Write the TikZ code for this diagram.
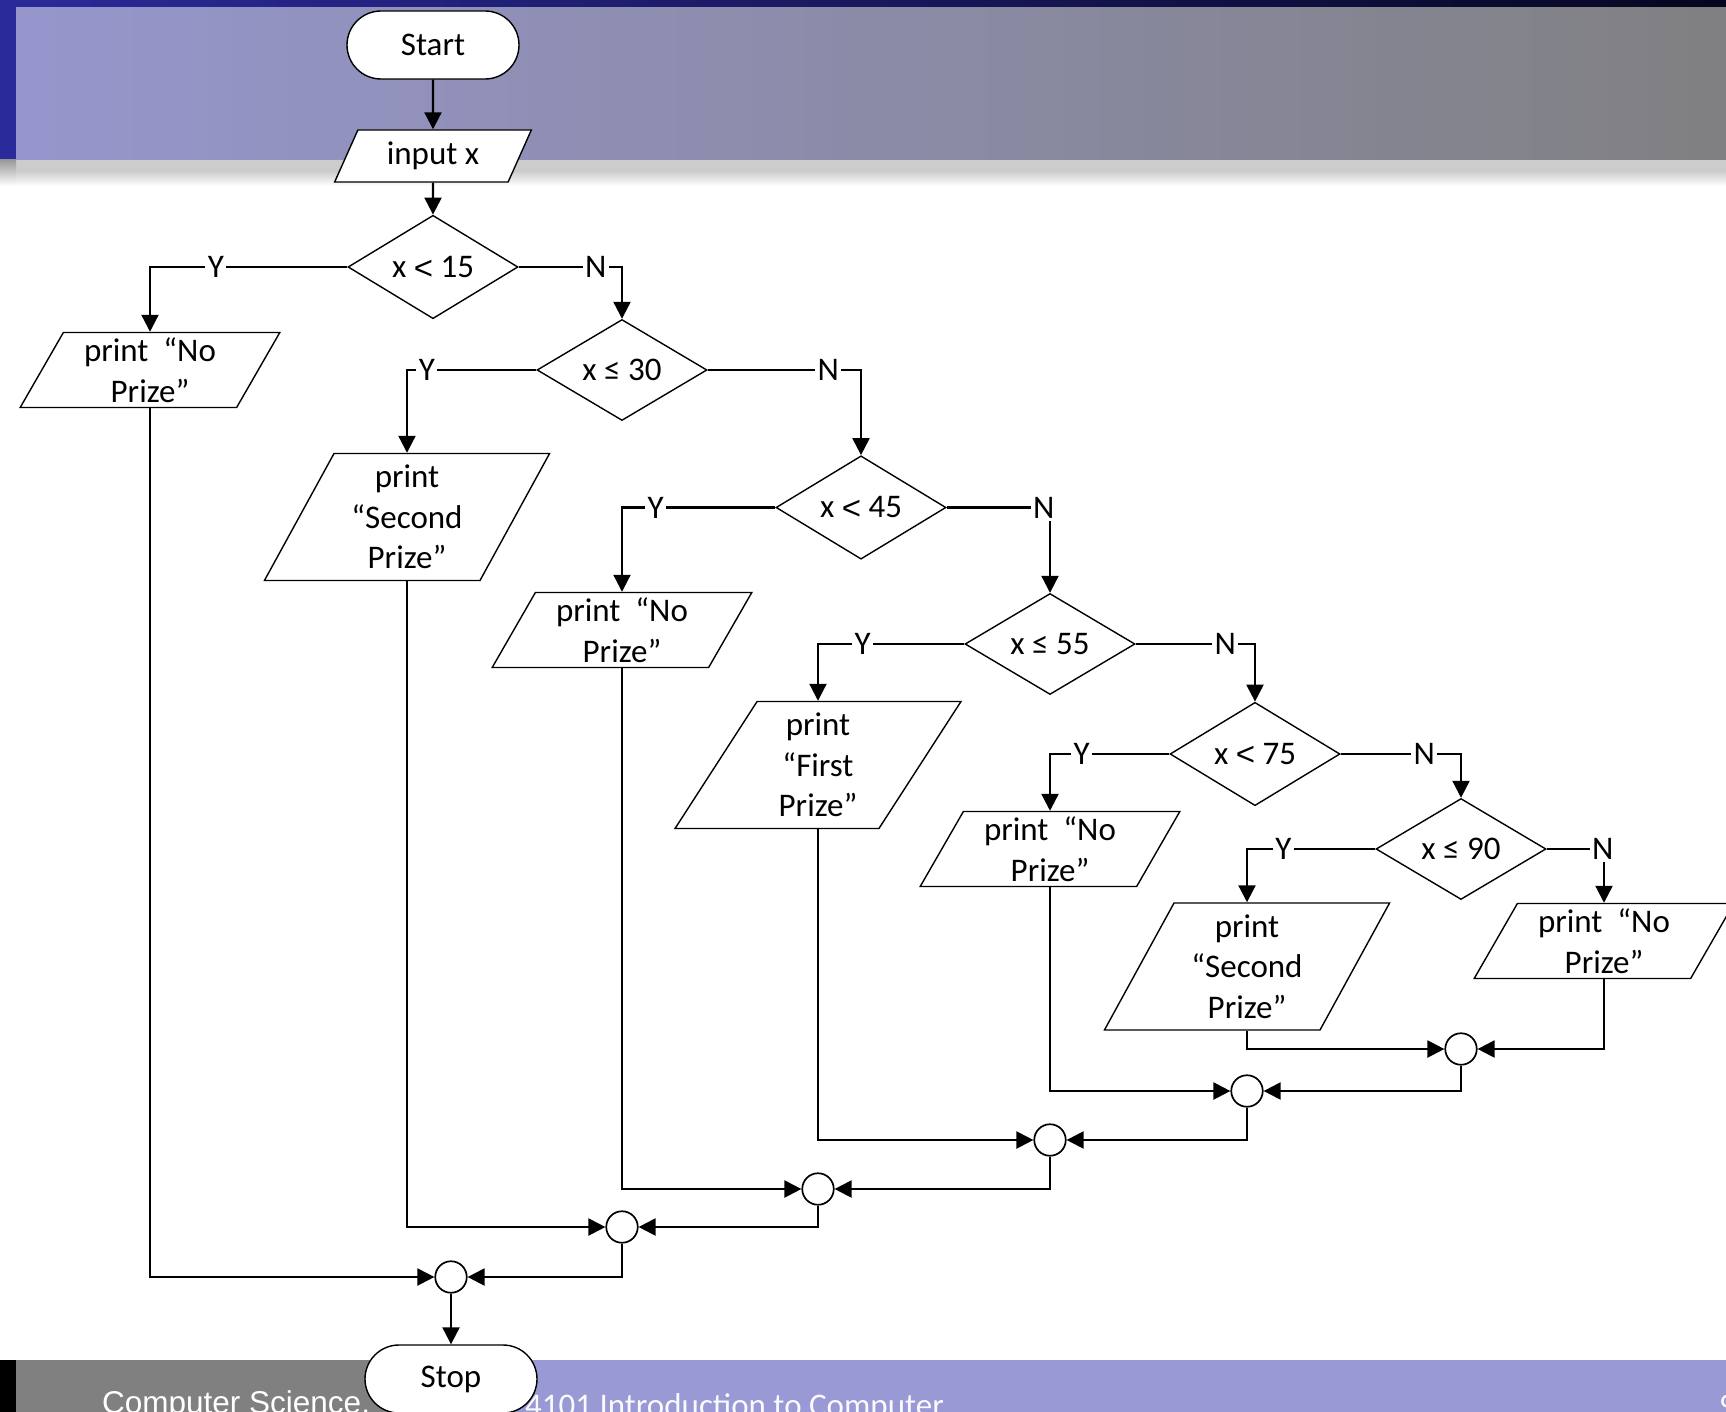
\documentclass[tikz,border=0pt]{standalone}
\usepackage{fontspec}
\setmainfont{Carlito}
\newfontfamily\footfont{Liberation Sans}
\usetikzlibrary{shapes.geometric,shapes.misc,arrows.meta,shadings}
\definecolor{topdark}{RGB}{43,42,154}
\definecolor{topblack}{RGB}{6,6,32}
\definecolor{bandleft}{RGB}{150,150,205}
\definecolor{bandright}{RGB}{128,128,130}
\definecolor{shadowgrey}{RGB}{204,204,204}
\definecolor{stripgrey}{RGB}{153,153,153}
\definecolor{footgrey}{RGB}{128,128,128}
\definecolor{footlav}{RGB}{153,153,214}
\newcommand\ltsym{\smash{\raisebox{-1.5pt}{\footfont<}}}
\tikzset{
  base/.style={draw=black, line width=1.4pt, fill=white, font=\fontsize{33}{40.5}\selectfont, align=center, inner sep=0pt},
  term/.style={base, rounded rectangle, minimum width=172pt, minimum height=68pt},
  io/.style={base, trapezium, trapezium left angle=63, trapezium right angle=117, trapezium stretches=true, minimum height=75pt, minimum width=260pt},
  iotall/.style={io, minimum height=127pt, minimum width=286pt},
  dec/.style={base, diamond, minimum width=170pt, minimum height=101pt},
  junc/.style={draw=black, line width=1.7pt, fill=white, circle, minimum size=31.5pt, inner sep=0pt},
  conn/.style={draw=black, line width=2.2pt, -{Triangle[length=17pt,width=17pt]}},
  lab/.style={fill=white, inner sep=2.5pt, font=\fontsize{33}{33}\selectfont},
  foot/.style={text=white, inner sep=0pt, anchor=base west}
}
\begin{document}
\begin{tikzpicture}[x=1pt,y=-1pt]
\useasboundingbox (0,0) rectangle (1726,1412);
% background
\fill[white] (0,0) rectangle (1726,1412);
\shade[left color=bandleft,right color=bandright] (16,7) rectangle (1726,160);
\shade[left color=topdark,right color=topblack] (0,0) rectangle (1726,7);
\fill[topdark] (0,0) rectangle (16,160);
\fill[shadowgrey] (16,160) rectangle (1726,171);
\shade[top color=shadowgrey,bottom color=white] (16,171) rectangle (1726,186);
\shade[top color=stripgrey,bottom color=white] (0,160) rectangle (16,186);
% footer
\fill[black] (0,1360) rectangle (16,1412);
\fill[footgrey] (16,1360) rectangle (460,1412);
\fill[footlav] (460,1360) rectangle (1726,1412);
\node[foot, font=\footfont\fontsize{31.5}{31.5}\selectfont] (ft1) at (102,1413) {Computer Science,};
\node[foot, font=\fontsize{33}{33}\selectfont, text=white!95!footlav] (ft2) at (525,1416) {4101 Introduction to Computer};
\node[foot, font=\fontsize{33}{33}\selectfont, text=white!95!footlav] (ft3) at (1719,1416) {9};

% nodes
\node[term] (start) at (433,45) {Start};
\node[io, minimum width=197pt, minimum height=52pt] (inp) at (433,156) {input x};
\node[dec] (d1) at (433,267) {x \ltsym{} 15};
\node[io] (p1) at (150,370) {print~~“No\\Prize”};
\node[dec] (d2) at (622,370) {x ≤ 30};
\node[iotall] (p2) at (407,517) {print\\“Second\\Prize”};
\node[dec] (d3) at (861,507.5) {x \ltsym{} 45};
\node[io] (p3) at (622,630) {print~~“No\\Prize”};
\node[dec] (d4) at (1050,644) {x ≤ 55};
\node[iotall] (p4) at (818,765) {print\\“First\\Prize”};
\node[dec] (d5) at (1255,754) {x \ltsym{} 75};
\node[io] (p5) at (1050,849) {print~~“No\\Prize”};
\node[dec] (d6) at (1461,849) {x ≤ 90};
\node[iotall] (p6) at (1247,966.5) {print\\“Second\\Prize”};
\node[io] (p7) at (1604,941) {print~~“No\\Prize”};

\node[junc] (j1) at (1461,1049) {};
\node[junc] (j2) at (1247,1091) {};
\node[junc] (j3) at (1050,1140) {};
\node[junc] (j4) at (818,1189) {};
\node[junc] (j5) at (622,1227) {};
\node[junc] (j6) at (451,1277) {};
\node[term] (stop) at (451,1379) {Stop};

% connectors
\draw[conn] (start) -- (inp);
\draw[conn] (inp) -- (d1);
\draw[conn] (d1.west) -| node[lab,pos=0.333] (y1) {Y} (p1.center |- p1.north);
\draw[conn] (d1.east) -| node[lab,pos=0.373] (n1) {N} (d2.north);
\draw[conn] (d2.west) -| node[lab,pos=0.423] (y2) {Y} (p2.center |- p2.north);
\draw[conn] (d2.east) -| node[lab,pos=0.393] (n2) {N} (d3.north);
\draw[conn] (d3.west) -| node[lab,pos=0.39] (y3) {Y} (p3.center |- p3.north);
\draw[conn] (d3.east) -| node[lab,pos=0.47] (n3) {N} (d4.north);
\draw[conn] (d4.west) -| node[lab,pos=0.347] (y4) {Y} (p4.center |- p4.north);
\draw[conn] (d4.east) -| node[lab,pos=0.375] (n4) {N} (d5.north);
\draw[conn] (d5.west) -| node[lab,pos=0.367] (y5) {Y} (p5.center |- p5.north);
\draw[conn] (d5.east) -| node[lab,pos=0.347] (n5) {N} (d6.north);
\draw[conn] (d6.west) -| node[lab,pos=0.358] (y6) {Y} (p6.center |- p6.north);
\draw[conn] (d6.east) -| node[lab,pos=0.49] (n6) {N} (p7.center |- p7.north);

\draw[conn] (p6.center |- p6.south) |- (j1.west);
\draw[conn] (p7.center |- p7.south) |- (j1.east);
\draw[conn] (p5.center |- p5.south) |- (j2.west);
\draw[conn] (j1.south) |- (j2.east);
\draw[conn] (p4.center |- p4.south) |- (j3.west);
\draw[conn] (j2.south) |- (j3.east);
\draw[conn] (p3.center |- p3.south) |- (j4.west);
\draw[conn] (j3.south) |- (j4.east);
\draw[conn] (p2.center |- p2.south) |- (j5.west);
\draw[conn] (j4.south) |- (j5.east);
\draw[conn] (p1.center |- p1.south) |- (j6.west);
\draw[conn] (j5.south) |- (j6.east);
\draw[conn] (j6) -- (stop);
\end{tikzpicture}
\end{document}
